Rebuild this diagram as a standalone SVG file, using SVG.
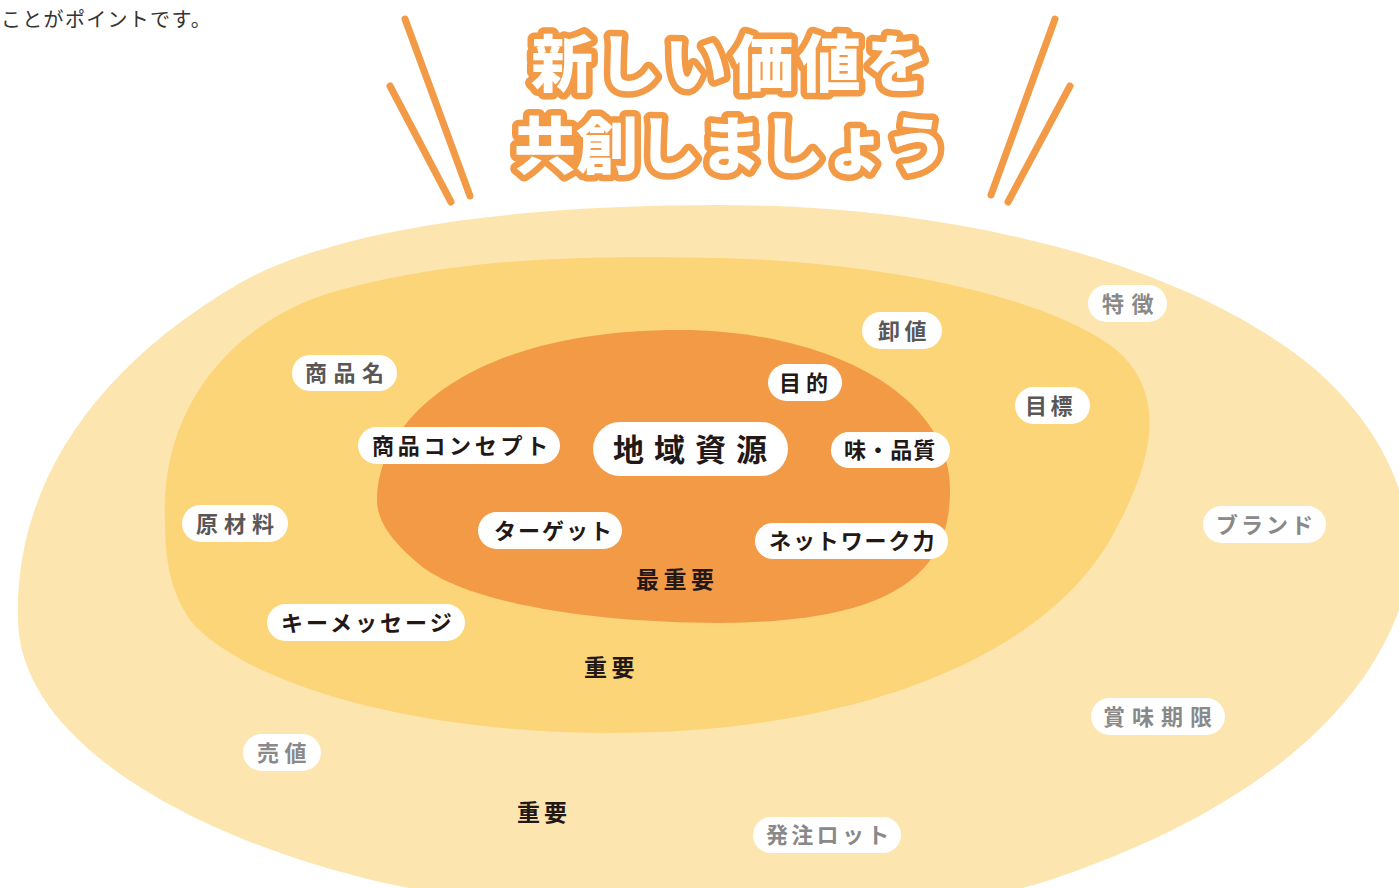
<svg xmlns="http://www.w3.org/2000/svg" width="1399" height="888" viewBox="0 0 1399 888">
<style>
.lbl{font-family:'Noto Sans CJK JP','Noto Sans CJK SC',sans-serif;font-weight:700;font-size:22px;}
.big{font-size:31px;}
.lvl{font-size:23px;}
.pill{fill:#ffffff;}
.k{fill:#231815;}
.g{fill:#595757;}
.lg{fill:#898989;}
.ttl{font-family:'Noto Sans CJK JP','Noto Sans CJK SC',sans-serif;font-weight:900;font-size:62px;fill:#ffffff;stroke:#F29A46;stroke-width:13;stroke-linejoin:round;paint-order:stroke fill;}
.ray{stroke:#F29A46;stroke-width:7;stroke-linecap:round;fill:none;}
</style>
<rect width="1399" height="888" fill="#ffffff"/>
<text x="1" y="27" font-family="'Noto Sans CJK JP','Noto Sans CJK SC',sans-serif" font-size="20" font-weight="400" letter-spacing="1.3" fill="#333333">ことがポイントです。</text>

<g id="outer-ring">
<path d="M 18,620 C 14,490 90,370 240,283 C 330,232 500,205 720,205 C 950,205 1180,260 1310,365 C 1400,440 1430,540 1395,620 C 1350,730 1230,820 1050,880 C 900,930 550,920 380,882 C 200,840 20,745 18,620 Z" fill="#FDE5AF"/>
</g>
<g id="middle-ring">
<path d="M 165,520 C 160,410 230,320 340,290 C 470,255 600,256 720,258 C 880,262 1040,295 1110,345 C 1170,390 1155,460 1110,540 C 1040,660 850,735 600,733 C 400,731 240,680 190,620 C 170,590 165,560 165,520 Z" fill="#FBD577"/>
</g>
<g id="inner-ring">
<path d="M 377,500 C 377,420 470,330 680,330 C 820,330 950,390 950,490 C 950,570 900,622 720,623 C 600,623 470,605 420,565 C 390,540 377,520 377,500 Z" fill="#F29A46"/>
</g>

<g id="title">
<line class="ray" x1="405" y1="19" x2="470" y2="196"/>
<line class="ray" x1="390" y1="86" x2="451" y2="202"/>
<line class="ray" x1="1055" y1="19" x2="991" y2="195"/>
<line class="ray" x1="1070" y1="86" x2="1008" y2="202"/>
<text class="ttl" x="531" y="87" letter-spacing="5">新しい価値を</text>
<text class="ttl" x="514" y="169" letter-spacing="0">共創しましょう</text>
</g>

<g id="n-shohinmei"><rect class="pill" x="292" y="355" width="105" height="36" rx="18"/><text class="lbl g" x="305" y="381" letter-spacing="6.5">商品名</text></g>
<g id="n-concept"><rect class="pill" x="358" y="427" width="202" height="37" rx="18.5"/><text class="lbl k" x="372" y="454" letter-spacing="3.7">商品コンセプト</text></g>
<g id="n-chiiki"><rect class="pill" x="593" y="422" width="195" height="54" rx="27"/><text class="lbl big k" x="613" y="461" letter-spacing="10">地域資源</text></g>
<g id="n-aji"><rect class="pill" x="831" y="432" width="119" height="36" rx="18"/><text class="lbl k" x="844" y="458" letter-spacing="1.1">味・品質</text></g>
<g id="n-network"><rect class="pill" x="755" y="523" width="193" height="36" rx="18"/><text class="lbl k" x="769" y="549" letter-spacing="1.9">ネットワーク力</text></g>
<g id="n-mokuteki"><rect class="pill" x="768" y="364" width="74" height="37" rx="18.5"/><text class="lbl k" x="779" y="391" letter-spacing="5">目的</text></g>
<g id="n-oroshine"><rect class="pill" x="862" y="312" width="80" height="37" rx="18.5"/><text class="lbl g" x="878" y="339" letter-spacing="4.5">卸値</text></g>
<g id="n-mokuhyo"><rect class="pill" x="1015" y="387" width="75" height="37" rx="18.5"/><text class="lbl g" x="1025" y="414" letter-spacing="3.5">目標</text></g>
<g id="n-tokucho"><rect class="pill" x="1088" y="285" width="79" height="37" rx="18.5"/><text class="lbl lg" x="1102" y="312" letter-spacing="7.5">特徴</text></g>
<g id="n-brand"><rect class="pill" x="1203" y="506" width="123" height="37" rx="18.5"/><text class="lbl lg" x="1216" y="533" letter-spacing="3">ブランド</text></g>
<g id="n-genzairyo"><rect class="pill" x="182" y="505" width="106" height="37" rx="18.5"/><text class="lbl g" x="196" y="532" letter-spacing="6">原材料</text></g>
<g id="n-target"><rect class="pill" x="478" y="512" width="144" height="37" rx="18.5"/><text class="lbl k" x="494" y="539" letter-spacing="2">ターゲット</text></g>
<g id="n-keymessage"><rect class="pill" x="267" y="604" width="198" height="37" rx="18.5"/><text class="lbl k" x="281" y="631" letter-spacing="3">キーメッセージ</text></g>
<g id="n-urine"><rect class="pill" x="243" y="734" width="78" height="37" rx="18.5"/><text class="lbl lg" x="257" y="761" letter-spacing="5.5">売値</text></g>
<g id="n-shomikigen"><rect class="pill" x="1091" y="698" width="134" height="37" rx="18.5"/><text class="lbl lg" x="1103" y="725" letter-spacing="7">賞味期限</text></g>
<g id="n-hacchu"><rect class="pill" x="753" y="817" width="148" height="36" rx="18"/><text class="lbl lg" x="766" y="843" letter-spacing="3.3">発注ロット</text></g>

<g id="level-labels">
<text class="lbl lvl k" x="636" y="588" letter-spacing="4.5">最重要</text>
<text class="lbl lvl k" x="584" y="676" letter-spacing="4.5">重要</text>
<text class="lbl lvl k" x="517" y="821" letter-spacing="4">重要</text>
</g>
</svg>
